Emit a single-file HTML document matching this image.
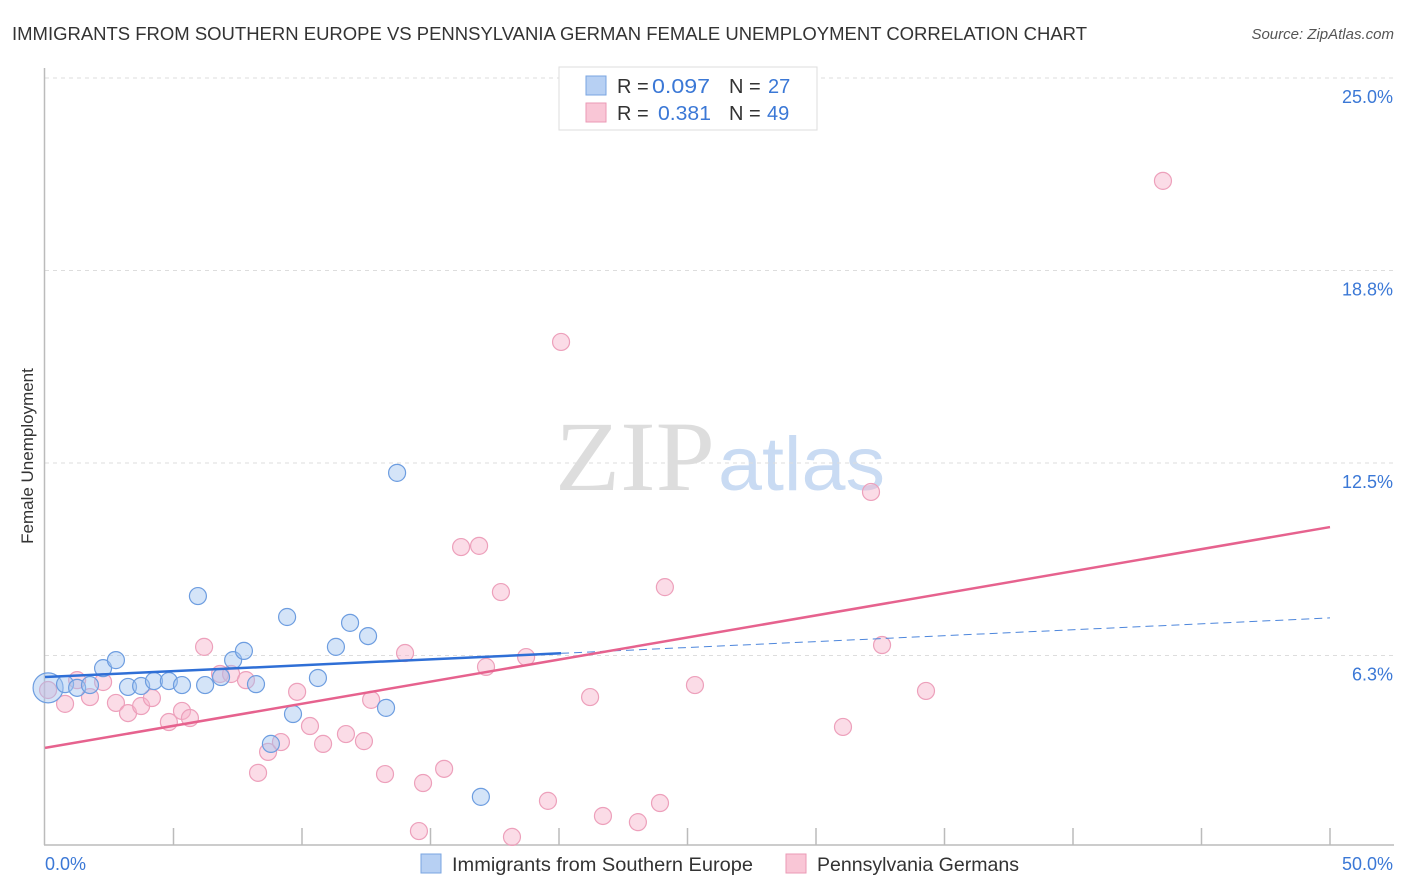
<!DOCTYPE html>
<html><head><meta charset="utf-8"><style>
body{margin:0;background:#fff;font-family:"Liberation Sans",sans-serif;}
#wrap{position:relative;width:1406px;height:892px;overflow:hidden;}
</style></head><body>
<div id="wrap">
<svg id="svg" width="1406" height="892" xmlns="http://www.w3.org/2000/svg">
<text x="12" y="40" font-size="18" fill="#333" textLength="1075" lengthAdjust="spacingAndGlyphs">IMMIGRANTS FROM SOUTHERN EUROPE VS PENNSYLVANIA GERMAN FEMALE UNEMPLOYMENT CORRELATION CHART</text>
<text x="1394" y="39" font-size="15" fill="#555" font-style="italic" text-anchor="end">Source: ZipAtlas.com</text>
<text x="33" y="456" font-size="17" fill="#333" text-anchor="middle" transform="rotate(-90 33 456)">Female Unemployment</text>
<g>
<text x="555" y="490" font-size="100" fill="#ddd" font-family="Liberation Serif,serif" textLength="160" lengthAdjust="spacingAndGlyphs">ZIP</text>
<text x="718" y="490" font-size="76" fill="#c9dbf3" textLength="167" lengthAdjust="spacingAndGlyphs">atlas</text>
</g>
<g id="grid"></g><g id="axes"></g><g id="marks"></g>
<g>
<rect x="559" y="67" width="258" height="63" fill="#fff" stroke="#ddd"/>
<rect x="586" y="76" width="20" height="19" fill="#b7d0f3" stroke="#7aa5e0"/>
<rect x="586" y="103" width="20" height="19" fill="#f9c6d6" stroke="#eb9ab6"/>
<text y="93" font-size="20" fill="#333"><tspan x="617">R =</tspan><tspan x="652" fill="#3b78d6" textLength="58" lengthAdjust="spacingAndGlyphs">0.097</tspan><tspan x="729">N =</tspan><tspan x="768" fill="#3b78d6">27</tspan></text>
<text y="120" font-size="20" fill="#333"><tspan x="617">R =</tspan><tspan x="658" fill="#3b78d6" textLength="53" lengthAdjust="spacingAndGlyphs">0.381</tspan><tspan x="729">N =</tspan><tspan x="767" fill="#3b78d6">49</tspan></text>
</g>
<g>
<rect x="421" y="854" width="20" height="19" fill="#b7d0f3" stroke="#7aa5e0"/>
<text x="452" y="871" font-size="19.5" fill="#333" textLength="301" lengthAdjust="spacingAndGlyphs">Immigrants from Southern Europe</text>
<rect x="786" y="854" width="20" height="19" fill="#f9c6d6" stroke="#eb9ab6"/>
<text x="817" y="871" font-size="19.5" fill="#333" textLength="202" lengthAdjust="spacingAndGlyphs">Pennsylvania Germans</text>
</g>
</svg>
</div>
<script>
const yTicks=[25,18.75,12.5,6.25];
const yTickLabels=["25.0%","18.8%","12.5%","6.3%"];
const xTicks=[0,5,10,15,20,25,30,35,40,45,50];
const blueX=[0.12,0.78,1.25,1.75,2.26,2.76,3.23,3.74,4.24,4.82,5.33,5.95,6.23,6.85,7.32,7.74,8.21,8.79,9.42,9.65,10.62,11.32,11.87,12.57,13.27,13.70,16.96];
const blueY=[5.20,5.32,5.20,5.29,5.84,6.10,5.23,5.26,5.42,5.42,5.29,8.18,5.29,5.55,6.10,6.40,5.32,3.38,7.50,4.35,5.52,6.53,7.31,6.88,4.55,12.18,1.66];
const pinkX=[0.12,0.78,1.25,1.75,2.26,2.76,3.23,3.74,4.16,4.82,5.33,5.64,6.19,6.81,7.24,7.82,8.29,8.68,9.18,9.81,10.31,10.82,11.71,12.41,12.69,13.23,14.01,14.55,14.71,15.53,16.19,16.89,17.16,17.74,18.17,18.72,19.57,20.08,21.21,21.71,23.07,23.93,24.12,25.29,31.05,32.14,32.57,34.28,43.50];
const pinkY=[5.13,4.68,5.45,4.90,5.39,4.71,4.38,4.61,4.87,4.09,4.45,4.22,6.53,5.65,5.65,5.45,2.44,3.12,3.44,5.07,3.96,3.38,3.70,3.47,4.81,2.40,6.33,0.55,2.11,2.57,9.77,9.81,5.88,8.31,0.36,6.20,1.53,16.43,4.90,1.04,0.84,1.46,8.47,5.29,3.93,11.56,6.59,5.10,21.66];
const blueTrend=[5.55,7.47]; const blueSolidEnd=20.08;
const pinkTrend=[3.25,10.42];
const NS="http://www.w3.org/2000/svg";
const X=v=>45+v*(1285/50), Y=v=>848-v*(192.5/6.25);
function mk(p,t,a){const e=document.createElementNS(NS,t);for(const k in a)e.setAttribute(k,a[k]);p.appendChild(e);return e;}
const grid=document.getElementById('grid'),axes=document.getElementById('axes'),marks=document.getElementById('marks');
yTicks.forEach((t,i)=>{
 const l=mk(grid,'line',{x1:45,x2:1394,y1:Y(t),y2:Y(t),stroke:'#ddd','stroke-dasharray':'4,4'});
 
 
 const tx=mk(axes,'text',{x:1393,y:Y(t)+25,'font-size':18,fill:'#3b78d6','text-anchor':'end'});
 tx.textContent=yTickLabels[i];
 
 
});
mk(axes,'line',{x1:44.5,x2:44.5,y1:68,y2:845,stroke:'#bbb','stroke-width':1.5});
mk(axes,'line',{x1:44,x2:1394,y1:845,y2:845,stroke:'#bbb','stroke-width':1.5});
xTicks.forEach(t=>{if(t>0){const l=mk(axes,'line',{x1:X(t),x2:X(t),y1:828,y2:845,stroke:'#bbb','stroke-width':1.5});
 
 }});
let t0=mk(axes,'text',{x:45,y:870,'font-size':18,fill:'#3b78d6'});t0.textContent='0.0%';


let t1=mk(axes,'text',{x:1393,y:870,'font-size':18,fill:'#3b78d6','text-anchor':'end'});t1.textContent='50.0%';


pinkX.forEach((x,i)=>{const c=mk(marks,'circle',{cx:X(x),cy:Y(pinkY[i]),r:8.5,fill:'rgba(246,178,202,0.45)',stroke:'#eda0bb','stroke-width':1.2});
 
 });
blueX.forEach((x,i)=>{const c=mk(marks,'circle',{cx:X(x),cy:Y(blueY[i]),r:i==0?15:8.5,fill:'rgba(160,195,240,0.45)',stroke:'#6d9de0','stroke-width':1.2});
 
 });
const bAt=x=>blueTrend[0]+(blueTrend[1]-blueTrend[0])*x/50;
let b1=mk(marks,'line',{x1:X(0),y1:Y(blueTrend[0]),x2:X(blueSolidEnd),y2:Y(bAt(blueSolidEnd)),stroke:'#2f6fd6','stroke-width':2.5});


let b2=mk(marks,'line',{x1:X(blueSolidEnd),y1:Y(bAt(blueSolidEnd)),x2:X(50),y2:Y(blueTrend[1]),stroke:'#4d86dc','stroke-width':1,'stroke-dasharray':'8,5'});


let p1=mk(marks,'line',{x1:X(0),y1:Y(pinkTrend[0]),x2:X(50),y2:Y(pinkTrend[1]),stroke:'#e6628e','stroke-width':2.5});


</script>
</body></html>
